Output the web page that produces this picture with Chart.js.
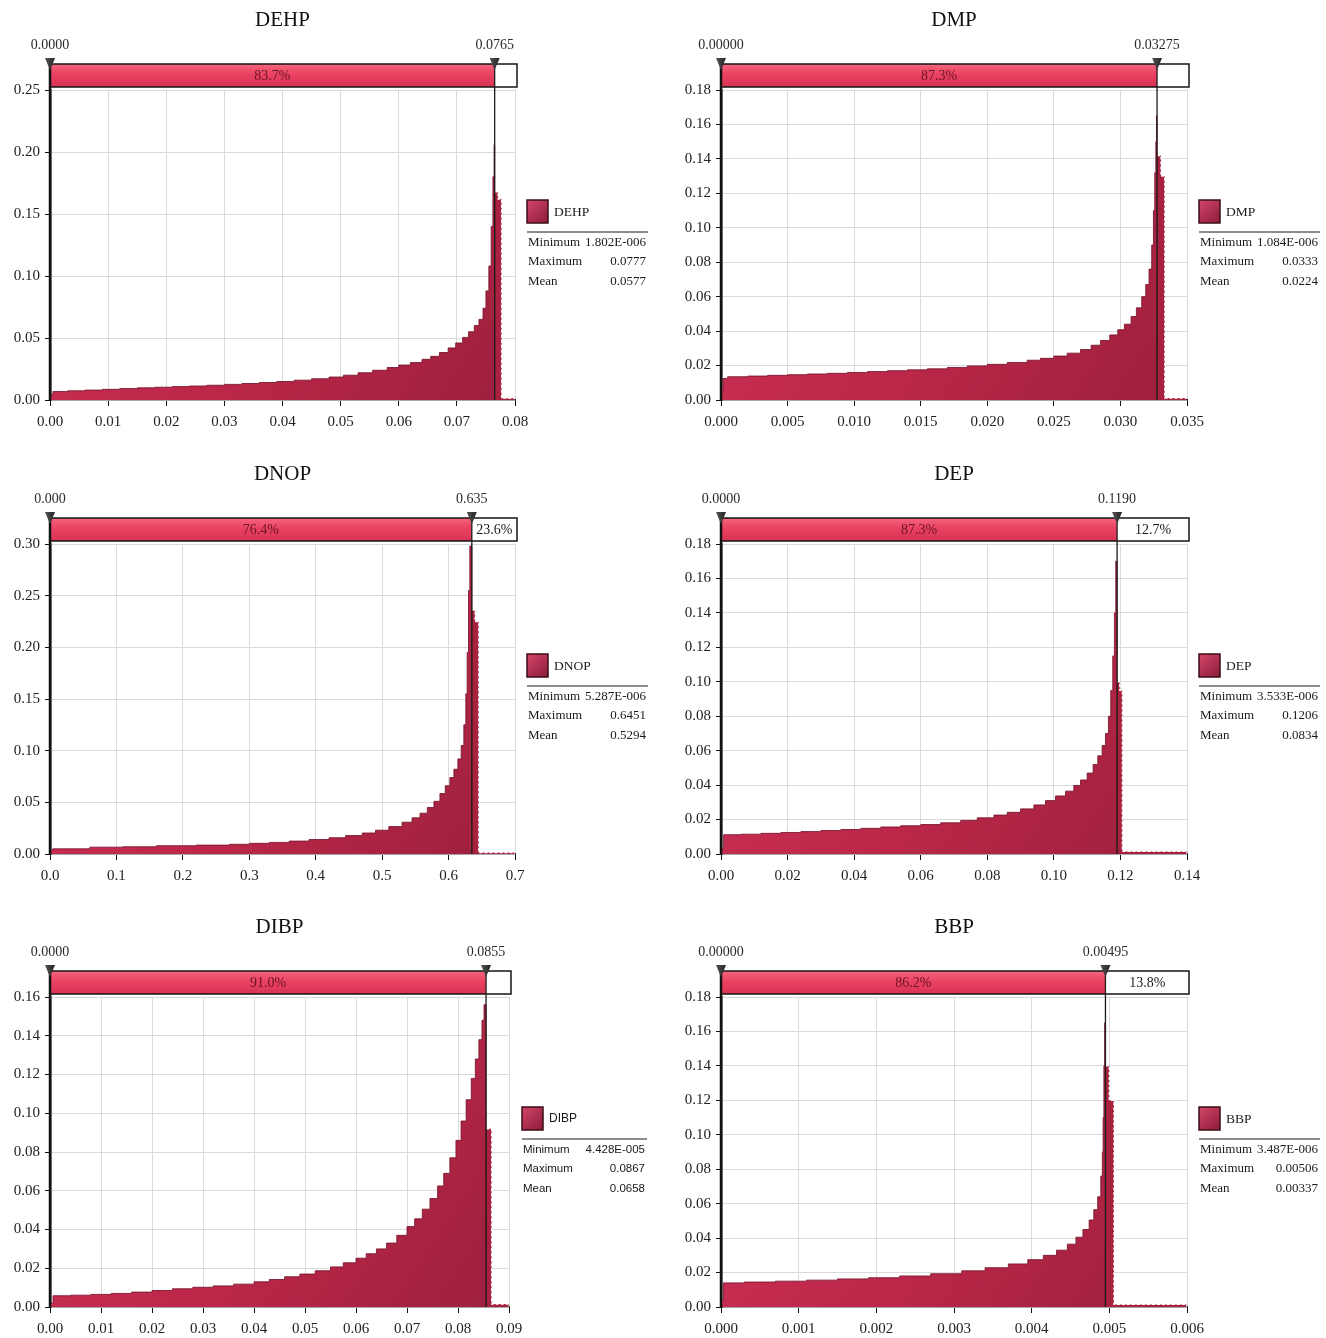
<!DOCTYPE html>
<html>
<head>
<meta charset="utf-8">
<script src="https://cdn.jsdelivr.net/npm/chart.js@4.4.1/dist/chart.umd.min.js"></script>
<style>
  html, body { margin: 0; padding: 0; background: #ffffff; }
  #wrap { position: relative; width: 1326px; height: 1338px; overflow: hidden; background: #ffffff; }
  #wrap canvas { position: absolute; }
</style>
</head>
<body>
<div id="wrap"></div>
<script>
// ---- Simulated output distributions: left edge of each bin and its probability ----
const dehpBinStart = [0.0000, 0.0005, 0.0030, 0.0060, 0.0090, 0.0120, 0.0150, 0.0180, 0.0210, 0.0240,
  0.0270, 0.0300, 0.0330, 0.0360, 0.0390, 0.0420, 0.0450, 0.0480, 0.0505, 0.0530,
  0.0555, 0.0580, 0.0600, 0.0620, 0.0640, 0.0655, 0.0670, 0.0685, 0.0698, 0.0710,
  0.0720, 0.0730, 0.0738, 0.0745, 0.0750, 0.0755, 0.0759, 0.0762, 0.0764,
  0.0765, 0.0771, 0.0777];
const dehpDensity = [0.0045, 0.0068, 0.0074, 0.0080, 0.0086, 0.0092, 0.0098, 0.0103, 0.0108, 0.0113,
  0.0119, 0.0126, 0.0133, 0.0141, 0.0149, 0.0160, 0.0171, 0.0185, 0.0200, 0.0220,
  0.0240, 0.0262, 0.0282, 0.0302, 0.0328, 0.0352, 0.0383, 0.0420, 0.0460, 0.0505,
  0.0550, 0.0600, 0.0650, 0.0740, 0.0880, 0.1080, 0.1400, 0.1800, 0.2060,
  0.1680, 0.1620, 0.0015];

const dmpBinStart = [0.00000, 0.00015, 0.00050, 0.00200, 0.00350, 0.00500, 0.00650, 0.00800, 0.00950, 0.01100,
  0.01250, 0.01400, 0.01550, 0.01700, 0.01850, 0.02000, 0.02150, 0.02300, 0.02400, 0.02500,
  0.02600, 0.02700, 0.02780, 0.02850, 0.02920, 0.02980, 0.03030, 0.03080, 0.03120, 0.03160,
  0.03190, 0.03215, 0.03235, 0.03248, 0.03258, 0.03266, 0.03271,
  0.03275, 0.03305, 0.03333];
const dmpDensity = [0.0060, 0.0125, 0.0135, 0.0139, 0.0143, 0.0147, 0.0151, 0.0155, 0.0160, 0.0165,
  0.0170, 0.0175, 0.0181, 0.0189, 0.0198, 0.0207, 0.0218, 0.0231, 0.0242, 0.0255,
  0.0272, 0.0293, 0.0318, 0.0345, 0.0378, 0.0408, 0.0440, 0.0485, 0.0535, 0.0600,
  0.0670, 0.0760, 0.0900, 0.1100, 0.1320, 0.1500, 0.1650,
  0.1420, 0.1300, 0.0012];

const dnopBinStart = [0.000, 0.004, 0.060, 0.110, 0.160, 0.220, 0.270, 0.300, 0.330, 0.360,
  0.390, 0.420, 0.445, 0.470, 0.490, 0.510, 0.530, 0.545, 0.557, 0.568,
  0.578, 0.587, 0.595, 0.602, 0.608, 0.614, 0.619, 0.623, 0.626, 0.628,
  0.630, 0.632,
  0.635, 0.640, 0.6455];
const dnopDensity = [0.0035, 0.0050, 0.0066, 0.0070, 0.0080, 0.0086, 0.0094, 0.0103, 0.0112, 0.0125,
  0.0140, 0.0157, 0.0178, 0.0203, 0.0230, 0.0265, 0.0308, 0.0350, 0.0395, 0.0450,
  0.0510, 0.0585, 0.0660, 0.0740, 0.0820, 0.0920, 0.1050, 0.1250, 0.1550, 0.1950,
  0.2550, 0.2980,
  0.2360, 0.2250, 0.0015];

const depBinStart = [0.0000, 0.0008, 0.0060, 0.0120, 0.0180, 0.0240, 0.0300, 0.0360, 0.0420, 0.0480,
  0.0540, 0.0600, 0.0660, 0.0720, 0.0770, 0.0820, 0.0860, 0.0900, 0.0940, 0.0975,
  0.1005, 0.1035, 0.1060, 0.1080, 0.1100, 0.1118, 0.1132, 0.1145, 0.1155, 0.1164,
  0.1171, 0.1177, 0.1182, 0.1186,
  0.1190, 0.1198, 0.1206];
const depDensity = [0.0030, 0.0112, 0.0115, 0.0120, 0.0125, 0.0130, 0.0136, 0.0142, 0.0149, 0.0157,
  0.0164, 0.0171, 0.0181, 0.0195, 0.0210, 0.0226, 0.0242, 0.0262, 0.0285, 0.0310,
  0.0337, 0.0365, 0.0398, 0.0430, 0.0470, 0.0520, 0.0570, 0.0630, 0.0700, 0.0800,
  0.0950, 0.1150, 0.1400, 0.1700,
  0.1000, 0.0950, 0.0015];

const dibpBinStart = [0.0000, 0.0006, 0.0040, 0.0080, 0.0120, 0.0160, 0.0200, 0.0240, 0.0280, 0.0320,
  0.0360, 0.0400, 0.0430, 0.0460, 0.0490, 0.0520, 0.0550, 0.0575, 0.0600, 0.0620,
  0.0640, 0.0660, 0.0680, 0.0700, 0.0715, 0.0730, 0.0745, 0.0760, 0.0772, 0.0784,
  0.0796, 0.0806, 0.0816, 0.0826, 0.0834, 0.0841, 0.0847, 0.0851,
  0.0855, 0.0866];
const dibpDensity = [0.0020, 0.0058, 0.0061, 0.0065, 0.0070, 0.0077, 0.0085, 0.0094, 0.0102, 0.0109,
  0.0118, 0.0130, 0.0142, 0.0156, 0.0170, 0.0187, 0.0207, 0.0228, 0.0252, 0.0275,
  0.0300, 0.0330, 0.0370, 0.0415, 0.0455, 0.0505, 0.0560, 0.0625, 0.0690, 0.0770,
  0.0860, 0.0960, 0.1070, 0.1180, 0.1280, 0.1380, 0.1480, 0.1560,
  0.0920, 0.0015];

const bbpBinStart = [0.00000, 0.00003, 0.00030, 0.00070, 0.00110, 0.00150, 0.00190, 0.00230, 0.00270, 0.00310,
  0.00340, 0.00370, 0.00395, 0.00415, 0.00432, 0.00446, 0.00457, 0.00466, 0.00474, 0.00480,
  0.00485, 0.00489, 0.00491, 0.00492, 0.00493, 0.00494,
  0.00495, 0.00500, 0.00506];
const bbpDensity = [0.0040, 0.0140, 0.0145, 0.0150, 0.0156, 0.0163, 0.0170, 0.0180, 0.0193, 0.0210,
  0.0228, 0.0250, 0.0275, 0.0300, 0.0330, 0.0365, 0.0405, 0.0450, 0.0505, 0.0565,
  0.0640, 0.0760, 0.0900, 0.1100, 0.1400, 0.1650,
  0.1400, 0.1200, 0.0015];

// ---- Panel descriptions ----
const panelNames = ['DEHP', 'DMP', 'DNOP', 'DEP', 'DIBP', 'BBP'];
const binStarts = [dehpBinStart, dmpBinStart, dnopBinStart, depBinStart, dibpBinStart, bbpBinStart];
const densities = [dehpDensity, dmpDensity, dnopDensity, depDensity, dibpDensity, bbpDensity];

const cutValues = [0.0765, 0.03275, 0.635, 0.1190, 0.0855, 0.00495];
const leftCutLabels = ['0.0000', '0.00000', '0.000', '0.0000', '0.0000', '0.00000'];
const rightCutLabels = ['0.0765', '0.03275', '0.635', '0.1190', '0.0855', '0.00495'];
const insidePct = ['83.7%', '87.3%', '76.4%', '87.3%', '91.0%', '86.2%'];
const outsidePct = ['', '', '23.6%', '12.7%', '', '13.8%'];

const statMin = ['1.802E-006', '1.084E-006', '5.287E-006', '3.533E-006', '4.428E-005', '3.487E-006'];
const statMax = ['0.0777', '0.0333', '0.6451', '0.1206', '0.0867', '0.00506'];
const statMean = ['0.0577', '0.0224', '0.5294', '0.0834', '0.0658', '0.00337'];

const xMaxValues = [0.08, 0.035, 0.7, 0.14, 0.09, 0.006];
const xStepValues = [0.01, 0.005, 0.1, 0.02, 0.01, 0.001];
const xDecimals = [2, 3, 1, 2, 2, 3];
const yMaxValues = [0.25, 0.18, 0.30, 0.18, 0.16, 0.18];
const yStepValues = [0.05, 0.02, 0.05, 0.02, 0.02, 0.02];

// ---- Drawing ----
const SERIF = '"Liberation Serif", "Times New Roman", serif';
const SANS = '"Liberation Sans", Arial, sans-serif';

function histFill(context) {
  const { ctx, chartArea } = context.chart;
  if (!chartArea) return '#b8284a';
  const g = ctx.createLinearGradient(chartArea.left, chartArea.top, chartArea.right, chartArea.bottom);
  g.addColorStop(0, '#d0325a');
  g.addColorStop(0.55, '#bb2748');
  g.addColorStop(1, '#9c1f3d');
  return g;
}

const panelDecor = {
  id: 'panelDecor',
  afterDatasetsDraw(chart, args, o) {
    const { ctx, chartArea: a, scales: { x } } = chart;
    const bandTop = a.top - 26, bandBot = a.top - 3, bandMid = (bandTop + bandBot) / 2;
    const x0 = x.getPixelForValue(0);
    const xc = x.getPixelForValue(o.cut);
    const xr = a.right + 2;
    ctx.save();

    // title
    ctx.fillStyle = '#111';
    ctx.font = '21px ' + SERIF;
    ctx.textAlign = 'center';
    ctx.textBaseline = 'middle';
    ctx.fillText(o.name, (a.left + a.right) / 2, 20);

    // delimiter band
    const bg = ctx.createLinearGradient(0, bandTop, 0, bandBot);
    bg.addColorStop(0, '#f4657e');
    bg.addColorStop(0.45, '#ea4261');
    bg.addColorStop(1, '#d83354');
    ctx.fillStyle = bg;
    ctx.fillRect(x0, bandTop, xc - x0, bandBot - bandTop);
    ctx.fillStyle = '#ffffff';
    ctx.fillRect(xc, bandTop, xr - xc, bandBot - bandTop);
    ctx.strokeStyle = '#151515';
    ctx.lineWidth = 1.5;
    ctx.strokeRect(x0, bandTop, xr - x0, bandBot - bandTop);

    // band percentages
    ctx.font = '14px ' + SERIF;
    ctx.fillStyle = '#6a1424';
    ctx.fillText(o.inPct, (x0 + xc) / 2, bandMid + 1);
    if (o.outPct) {
      ctx.fillStyle = '#1a1a1a';
      ctx.fillText(o.outPct, (xc + xr) / 2, bandMid + 1);
    }

    // delimiter lines
    ctx.strokeStyle = '#111';
    ctx.lineWidth = 2.5;
    ctx.beginPath(); ctx.moveTo(x0, bandTop); ctx.lineTo(x0, a.bottom + 1); ctx.stroke();
    ctx.lineWidth = 1.3;
    ctx.strokeStyle = '#1c1c1c';
    ctx.beginPath(); ctx.moveTo(xc, bandTop); ctx.lineTo(xc, a.bottom); ctx.stroke();

    // delimiter triangles and values
    [[x0, o.leftLabel], [xc, o.rightLabel]].forEach(([px, label]) => {
      const tg = ctx.createLinearGradient(px - 5, 0, px + 5, 0);
      tg.addColorStop(0, '#555');
      tg.addColorStop(1, '#222');
      ctx.fillStyle = tg;
      ctx.beginPath();
      ctx.moveTo(px - 5, bandTop - 6);
      ctx.lineTo(px + 5, bandTop - 6);
      ctx.lineTo(px, bandTop + 6);
      ctx.closePath();
      ctx.fill();
      ctx.fillStyle = '#2a2a2a';
      ctx.font = '14px ' + SERIF;
      ctx.textAlign = 'center';
      ctx.fillText(label, px, a.top - 45);
    });

    // legend with statistics
    const lx = a.right + o.legendGap;
    const face = o.sansLegend ? SANS : SERIF;
    const span = o.sansLegend ? 125 : 121;
    const sg = ctx.createLinearGradient(lx, 200, lx + 21, 223);
    sg.addColorStop(0, '#d5466a');
    sg.addColorStop(1, '#8a1c38');
    ctx.fillStyle = sg;
    ctx.fillRect(lx, 200, 21, 23);
    ctx.strokeStyle = '#3b0c17';
    ctx.lineWidth = 1.5;
    ctx.strokeRect(lx, 200, 21, 23);
    ctx.fillStyle = '#1a1a1a';
    ctx.textAlign = 'left';
    ctx.font = (o.sansLegend ? '12px ' : '13.5px ') + face;
    ctx.fillText(o.name, lx + 27, 212);
    ctx.strokeStyle = '#8c8c8c';
    ctx.lineWidth = 2;
    ctx.beginPath(); ctx.moveTo(lx, 232); ctx.lineTo(lx + span, 232); ctx.stroke();
    ctx.font = (o.sansLegend ? '11.5px ' : '13px ') + face;
    const rows = [['Minimum', o.min, 243], ['Maximum', o.max, 262], ['Mean', o.mean, 282]];
    rows.forEach(([lab, val, ry]) => {
      ctx.textAlign = 'left';
      ctx.fillText(lab, lx + 1, ry);
      ctx.textAlign = 'right';
      ctx.fillText(val, lx + span - 2, ry);
    });
    ctx.restore();
  }
};

const wrap = document.getElementById('wrap');
const colLeft = [0, 671];
const colWidth = [671, 655];
const rowTop = [0, 454, 907];

panelNames.forEach((name, i) => {
  const col = i % 2, row = Math.floor(i / 2);
  const canvas = document.createElement('canvas');
  canvas.width = colWidth[col];
  canvas.height = 453;
  canvas.style.left = colLeft[col] + 'px';
  canvas.style.top = rowTop[row] + 'px';
  wrap.appendChild(canvas);

  const cut = cutValues[i];
  const starts = binStarts[i], dens = densities[i];
  const inside = [], outside = [];
  starts.forEach((s, k) => {
    (s < cut ? inside : outside).push({ x: s, y: dens[k] });
  });
  inside.push({ x: cut, y: 0 });
  outside.push({ x: xMaxValues[i], y: 0 });

  // right edge of the plot area inside this canvas
  const plotRight = col === 0 ? (i === 4 ? 509 : 515) : 516;

  new Chart(canvas, {
    type: 'line',
    data: {
      datasets: [
        {
          data: inside, stepped: 'before', fill: 'origin', tension: 0,
          pointRadius: 0, borderColor: 'rgba(120, 20, 45, 0.85)', borderWidth: 1,
          backgroundColor: histFill
        },
        {
          data: outside, stepped: 'before', fill: 'origin', tension: 0,
          pointRadius: 0, borderColor: '#ffffff', borderWidth: 1.4, borderDash: [3, 2],
          backgroundColor: '#a8223f'
        }
      ]
    },
    options: {
      responsive: false,
      animation: false,
      events: [],
      layout: { padding: { left: 0, top: 90, right: colWidth[col] - plotRight, bottom: 0 } },
      plugins: {
        legend: { display: false },
        tooltip: { enabled: false },
        panelDecor: {
          name, cut,
          leftLabel: leftCutLabels[i], rightLabel: rightCutLabels[i],
          inPct: insidePct[i], outPct: outsidePct[i],
          min: statMin[i], max: statMax[i], mean: statMean[i],
          legendGap: i === 4 ? 13 : 12,
          sansLegend: i === 4
        }
      },
      scales: {
        x: {
          type: 'linear', min: 0, max: xMaxValues[i],
          afterFit(scale) { scale.height = 53; },
          grid: { color: '#dadada', lineWidth: 1, tickLength: 6, tickColor: '#111', tickWidth: 1 },
          border: { color: '#111', width: 1.2 },
          ticks: {
            stepSize: xStepValues[i], padding: 7, color: '#222', maxRotation: 0, autoSkip: false,
            font: { family: SERIF, size: 15 },
            callback: v => Number(v).toFixed(xDecimals[i])
          }
        },
        y: {
          min: 0, max: yMaxValues[i],
          afterFit(scale) { scale.width = 50; },
          grid: { color: '#dadada', lineWidth: 1, tickLength: 5, tickColor: '#111', tickWidth: 1 },
          border: { color: '#111', width: 2.5 },
          ticks: {
            stepSize: yStepValues[i], padding: 5, color: '#222',
            font: { family: SERIF, size: 15 },
            callback: v => Number(v).toFixed(2)
          }
        }
      }
    },
    plugins: [panelDecor]
  });
});
</script>
</body>
</html>
